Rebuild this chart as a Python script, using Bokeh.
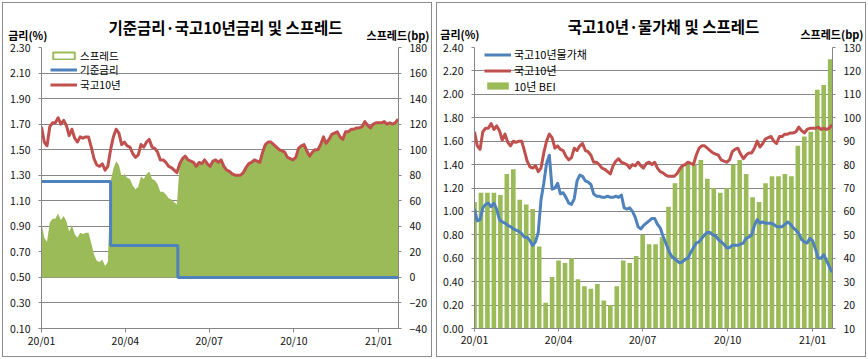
from bokeh.plotting import figure
from bokeh.models import (Range1d, LinearAxis, FixedTicker, NumeralTickFormatter,
                          Legend, LegendItem, Label)
from bokeh.layouts import row
from bokeh.embed import file_html
from bokeh.resources import INLINE

FONT = "Noto Sans CJK KR"
GREEN = "#9BBB59"
BLUE = "#4F81BD"
RED = "#C0504D"
GRID = "#868686"
BORDER = "#8c8c8c"
TXT = "#111111"
EM = "\u2003"

# ---------------- data ----------------
# x = calendar day offset from 2020-01-01, sampled every 3 days
days = list(range(0, 388, 3))
x_ticks = [0, 91, 182, 274, 366]
x_labels = ["20/01", "20/04", "20/07", "20/10", "21/01"]

kr10 = [1.68, 1.56, 1.53, 1.68, 1.71, 1.71, 1.75, 1.70, 1.73, 1.69,
        1.61, 1.66, 1.59, 1.56, 1.60, 1.59, 1.60, 1.60, 1.52, 1.43,
        1.38, 1.37, 1.39, 1.34, 1.37, 1.50, 1.60, 1.66, 1.63, 1.54,
        1.56, 1.53, 1.52, 1.47, 1.44, 1.46, 1.54, 1.52, 1.56, 1.58,
        1.52, 1.51, 1.48, 1.42, 1.42, 1.40, 1.37, 1.36, 1.34, 1.32,
        1.39, 1.43, 1.45, 1.42, 1.41, 1.40, 1.37, 1.40, 1.39, 1.42,
        1.39, 1.37, 1.41, 1.42, 1.40, 1.42, 1.37, 1.34, 1.33, 1.31,
        1.30, 1.30, 1.30, 1.32, 1.36, 1.39, 1.40, 1.42, 1.41, 1.40,
        1.48, 1.54, 1.56, 1.56, 1.54, 1.52, 1.50, 1.49, 1.48, 1.44,
        1.43, 1.42, 1.44, 1.51, 1.53, 1.54, 1.49, 1.45, 1.48, 1.50,
        1.50, 1.54, 1.60, 1.55, 1.58, 1.62, 1.63, 1.64, 1.60, 1.58,
        1.64, 1.64, 1.66, 1.66, 1.67, 1.67, 1.68, 1.72, 1.69, 1.67,
        1.70, 1.71, 1.71, 1.71, 1.72, 1.70, 1.71, 1.70, 1.71, 1.74]

base_days = [0, 75, 148, 387]
base_rate = [1.25, 0.75, 0.50, 0.50]

spread_bp = [43, 31, 28, 43, 46, 46, 50, 45, 48, 44,
             36, 41, 34, 31, 35, 34, 35, 35, 27, 18,
             13, 12, 14, 9, 12, 75, 85, 91, 88, 79,
             81, 78, 77, 72, 69, 71, 79, 77, 81, 83,
             77, 76, 73, 67, 67, 65, 62, 61, 59, 57,
             89, 93, 95, 92, 91, 90, 87, 90, 89, 92,
             89, 87, 91, 92, 90, 92, 87, 84, 83, 81,
             80, 80, 80, 82, 86, 89, 90, 92, 91, 90,
             98, 104, 106, 106, 104, 102, 100, 99, 98, 94,
             93, 92, 94, 101, 103, 104, 99, 95, 98, 100,
             100, 104, 110, 105, 108, 112, 113, 114, 110, 108,
             114, 114, 116, 116, 117, 117, 118, 122, 119, 117,
             120, 121, 121, 121, 122, 120, 121, 120, 121, 124]

linker = [1.02, 0.92, 0.93, 1.03, 1.06, 1.07, 1.04, 1.07, 1.02, 0.93,
          0.91, 0.90, 0.88, 0.87, 0.85, 0.84, 0.83, 0.81, 0.78, 0.78,
          0.75, 0.71, 0.74, 0.82, 1.10, 1.24, 1.41, 1.48, 1.19, 1.20,
          1.24, 1.15, 1.16, 1.12, 1.07, 1.06, 1.11, 1.26, 1.31, 1.30,
          1.26, 1.25, 1.23, 1.15, 1.13, 1.13, 1.12, 1.12, 1.13, 1.12,
          1.12, 1.13, 1.12, 1.14, 1.03, 1.02, 1.03, 1.00, 0.95, 0.87,
          0.85, 0.88, 0.90, 0.92, 0.94, 0.94, 0.89, 0.86, 0.79, 0.73,
          0.67, 0.62, 0.60, 0.58, 0.56, 0.57, 0.59, 0.60, 0.65, 0.69,
          0.73, 0.74, 0.77, 0.80, 0.82, 0.82, 0.80, 0.79, 0.76, 0.74,
          0.72, 0.69, 0.69, 0.71, 0.71, 0.71, 0.72, 0.73, 0.77, 0.78,
          0.80, 0.88, 0.93, 0.90, 0.91, 0.90, 0.90, 0.90, 0.89, 0.87,
          0.87, 0.87, 0.89, 0.91, 0.89, 0.86, 0.84, 0.81, 0.76, 0.74,
          0.73, 0.77, 0.75, 0.68, 0.60, 0.60, 0.63, 0.58, 0.53, 0.48]

# weekly BEI columns (centre = Wednesday of each week, Mon-Fri wide)
bei_week_mid = list(range(0, 386, 7))
bei_bp = [64, 68, 68, 68, 67, 76, 78, 65, 63, 61,
          45, 21, 32, 39, 38, 40, 31, 28, 27, 29,
          22, 20, 28, 39, 38, 41, 50, 46, 46, 49,
          62, 72, 79, 80, 80, 82, 74, 70, 68, 70,
          80, 82, 76, 66, 64, 72, 75, 75, 76, 75,
          88, 92, 94, 112, 114, 125]

l_ticks_1 = [0.1, 0.3, 0.5, 0.7, 0.9, 1.1, 1.3, 1.5, 1.7, 1.9, 2.1, 2.3]
r_ticks_1 = [-40, -20, 0, 20, 40, 60, 80, 100, 120, 140, 160, 180]
l_ticks_2 = [0.0, 0.2, 0.4, 0.6, 0.8, 1.0, 1.2, 1.4, 1.6, 1.8, 2.0, 2.2, 2.4]
r_ticks_2 = [10, 20, 30, 40, 50, 60, 70, 80, 90, 100, 110, 120, 130]


def style_axis(ax, size="10.5px"):
    ax.axis_line_color = GRID
    ax.major_tick_line_color = GRID
    ax.minor_tick_line_color = None
    ax.major_tick_in = 0
    ax.major_label_text_font = FONT
    ax.major_label_text_font_size = size
    ax.major_label_text_color = TXT


def make_fig(W, H, lb, rb, tb, bb, yr, ry, lt, rt, lfmt, xtick):
    p = figure(width=W, height=H, x_range=Range1d(0, 387.5),
               y_range=Range1d(*yr), output_backend="svg",
               toolbar_location=None, min_border_left=lb, min_border_right=rb,
               min_border_top=tb, min_border_bottom=bb,
               styles={"outline": "1px solid " + BORDER, "outline-offset": "-3px",
                       "background-color": "white"})
    p.extra_y_ranges = {"r": Range1d(*ry)}
    p.add_layout(LinearAxis(y_range_name="r"), "right")
    p.outline_line_color = None
    p.background_fill_color = "white"
    p.border_fill_alpha = 0
    p.xgrid.grid_line_color = None
    p.ygrid.grid_line_color = GRID
    p.ygrid.ticker = FixedTicker(ticks=lt)

    xa = p.xaxis[0]
    style_axis(xa)
    xa.ticker = FixedTicker(ticks=x_ticks)
    xa.major_label_overrides = dict(zip(x_ticks, x_labels))
    xa.major_tick_out = xtick
    xa.major_label_standoff = 0

    ya = p.yaxis[0]
    style_axis(ya)
    ya.ticker = FixedTicker(ticks=lt)
    ya.formatter = NumeralTickFormatter(format=lfmt)
    ya.major_tick_out = 3
    ya.major_label_standoff = 8

    ra = p.yaxis[1]
    style_axis(ra)
    ra.ticker = FixedTicker(ticks=rt)
    ra.major_tick_out = 3
    ra.major_label_standoff = 8
    return p


def add_unit_labels(p, left_text, right_text, t_left, t_right, standoff):
    # unit captions over the two value axes, drawn as the labels of a bare top axis
    ax = LinearAxis(axis_line_color=None, major_tick_line_color=None,
                    minor_tick_line_color=None, major_tick_out=0, major_tick_in=0,
                    major_label_standoff=standoff,
                    ticker=FixedTicker(ticks=[t_left, t_right]),
                    major_label_overrides={t_left: left_text + EM * 3,
                                           t_right: EM + right_text},
                    major_label_text_font=FONT, major_label_text_font_size="11px",
                    major_label_text_font_style="bold",
                    major_label_text_color="#000000")
    p.add_layout(ax, "above")


def add_title(p, text, x, y):
    p.add_layout(Label(x=x, y=y, text=text, text_align="center",
                       text_baseline="middle", text_font=FONT,
                       text_font_size="15.5px", text_font_style="bold",
                       text_color="#000000"), "above")


def add_legend(p, label, renderer, vx, vy, size="11px"):
    leg = Legend(items=[LegendItem(label=label, renderers=[renderer])],
                 location=(vx, vy), background_fill_alpha=0, border_line_color=None,
                 padding=0, margin=0, glyph_width=27, glyph_height=9,
                 label_height=9, label_standoff=3, label_text_font=FONT,
                 label_text_font_size=size, label_text_color="#000000",
                 inactive_fill_alpha=0)
    p.add_layout(leg, "center")


# ---------------- left chart ----------------
p1 = make_fig(434, 359, 41, 36, 43, 31, (0.10, 2.30), (-40, 180),
              l_ticks_1, r_ticks_1, "0.00", 4)

r_sp = p1.varea(x=days, y1=0, y2=spread_bp, y_range_name="r",
                fill_color=GREEN, fill_alpha=1)
# hidden outline-style key for the spread legend entry
r_sp_key = p1.quad(left=days, right=days, top=spread_bp, bottom=spread_bp,
                   y_range_name="r", fill_color="white", line_color=GREEN,
                   line_width=2, visible=False)
r_base = p1.step(x=base_days, y=base_rate, mode="after", line_color=BLUE,
                 line_width=3)
r_10 = p1.line(x=days, y=kr10, line_color=RED, line_width=3, line_join="round")

add_legend(p1, "스프레드", r_sp_key, 9, 265.5, "10.5px")
add_legend(p1, "기준금리", r_base, 9, 251, "10.5px")
add_legend(p1, "국고10년", r_10, 9, 236.5, "10.5px")

add_unit_labels(p1, "금리(%)", "스프레드(bp)", 3, 381, 5)
add_title(p1, "기준금리·국고10년금리 및 스프레드", 199.7, 2.462)

# ---------------- right chart ----------------
p2 = make_fig(434, 359, 40, 36, 44, 29, (0.0, 2.4), (10, 130),
              l_ticks_2, r_ticks_2, "0.00", 3)

r_bei = p2.vbar(x=bei_week_mid, width=5, top=bei_bp, bottom=10, y_range_name="r",
                fill_color=GREEN, line_color=None)
r_10b = p2.line(x=days, y=kr10, line_color=RED, line_width=3, line_join="round")
r_lk = p2.line(x=days, y=linker, line_color=BLUE, line_width=3, line_join="round")

add_legend(p2, "국고10년물가채", r_lk, 10, 266)
add_legend(p2, "국고10년", r_10b, 10, 250)
add_legend(p2, "10년 BEI", r_bei, 10, 234.5)

add_unit_labels(p2, "금리(%)", "스프레드(bp)", 2, 381, 6)
add_title(p2, "국고10년·물가채 및 스프레드", 204.6, 2.585)

layout = row(p1, p2, spacing=0)
open("out.html", "w").write(file_html(layout, INLINE))
